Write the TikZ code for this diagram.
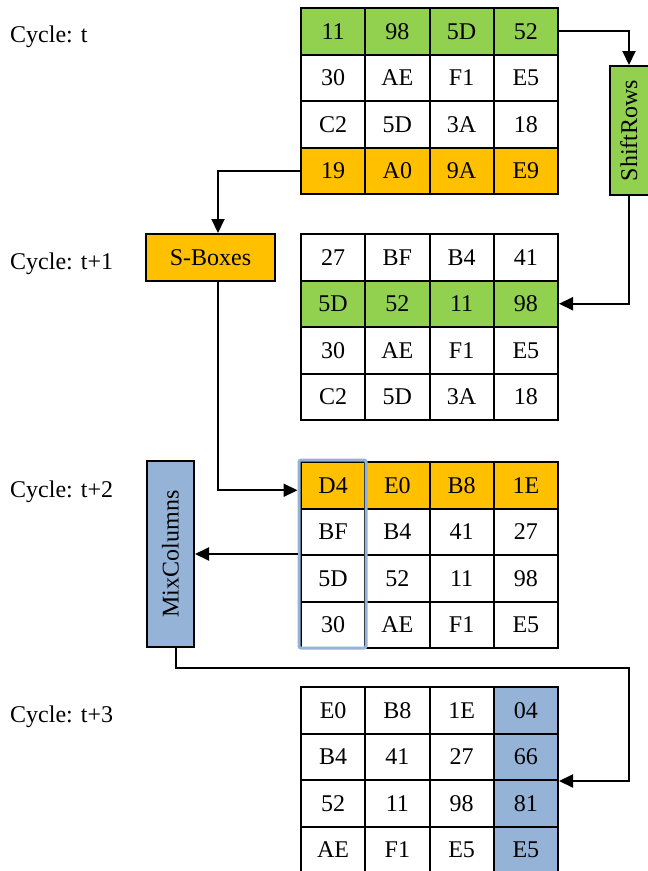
\documentclass[tikz,border=0pt]{standalone}
\usepackage{fontspec}
\setmainfont{Liberation Serif}
\usetikzlibrary{arrows.meta,calc}

\definecolor{rowgreen}{HTML}{92D050}
\definecolor{roworange}{HTML}{FFC000}
\definecolor{colblue}{HTML}{95B3D7}

\tikzset{
  cell/.style={draw, line width=2pt, minimum width=64.25pt, minimum height=46.5pt,
    inner sep=0pt, text height=16pt, text depth=0pt},
  opbox/.style={draw, line width=2pt, inner sep=0pt, text height=16pt, text depth=0pt},
  link/.style={line width=2pt, -{Triangle[length=14pt,width=13pt]}},
  cyclelabel/.style={anchor=base west, inner sep=0pt},
  colmark/.style={draw=colblue, line width=3pt, rounded corners=2pt, inner sep=0pt,
    minimum width=67pt, minimum height=188pt},
}

% one 4x4 state matrix: name, top edge, rows of value/fill pairs
\newcommand{\stategrid}[3]{%
  \foreach \rw/\cells in {#3} {
    \foreach \val/\fil [count=\col] in \cells {
      \node[cell, fill=\fil] (#1-\rw-\col)
        at ({301+64.25*(\col-0.5)}, {#2+46.5*(\rw-0.5)}) {\val};
    }
  }%
}

\begin{document}
\begin{tikzpicture}[x=1pt, y=-1pt, font=\fontsize{24}{28}\selectfont]
\clip (0,0) rectangle (648,871);

% cycle labels
\node[cyclelabel] (lt0) at (10,42)  {Cycle: t};
\node[cyclelabel] (lt1) at (10,269) {Cycle: t+1};
\node[cyclelabel] (lt2) at (10,497) {Cycle: t+2};
\node[cyclelabel] (lt3) at (10,722) {Cycle: t+3};

% state matrices
\stategrid{g1}{8}{
  1/{11/rowgreen,98/rowgreen,5D/rowgreen,52/rowgreen},
  2/{30/white,AE/white,F1/white,E5/white},
  3/{C2/white,5D/white,3A/white,18/white},
  4/{19/roworange,A0/roworange,9A/roworange,E9/roworange}}
\stategrid{g2}{234}{
  1/{27/white,BF/white,B4/white,41/white},
  2/{5D/rowgreen,52/rowgreen,11/rowgreen,98/rowgreen},
  3/{30/white,AE/white,F1/white,E5/white},
  4/{C2/white,5D/white,3A/white,18/white}}
\stategrid{g3}{462}{
  1/{D4/roworange,E0/roworange,B8/roworange,1E/roworange},
  2/{BF/white,B4/white,41/white,27/white},
  3/{5D/white,52/white,11/white,98/white},
  4/{30/white,AE/white,F1/white,E5/white}}
\stategrid{g4}{687}{
  1/{E0/white,B8/white,1E/white,04/colblue},
  2/{B4/white,41/white,27/white,66/colblue},
  3/{52/white,11/white,98/white,81/colblue},
  4/{AE/white,F1/white,E5/white,E5/colblue}}

% column selected for MixColumns
\node[colmark] (hl) at (332.5,554) {};

% round operations (rotated boxes: east is the top edge, west the bottom edge)
\node[opbox, fill=rowgreen, rotate=90, minimum width=129pt, minimum height=50pt]
  (sr) at (635,130.5) {\raisebox{6pt}{ShiftRows}};
\node[opbox, fill=roworange, minimum width=129pt, minimum height=47pt]
  (sb) at (210.5,257.5) {S-Boxes};
\node[opbox, fill=colblue, rotate=90, minimum width=186pt, minimum height=47pt]
  (mc) at (170.5,554) {MixColumns};

% data flow
\draw[link] (g1-1-4.east) -| ([xshift=-6pt]sr.east);
\draw[link] ([xshift=-6pt]sr.west) |- (g2-2-4.east);
\draw[link] (g1-4-1.west) -| ([xshift=7.5pt]sb.north);
\draw[link] ([xshift=7.5pt]sb.south) |- ($(hl.west |- g3-1-1.west)+(0,5)$);
\draw[link] (hl.west) -- (mc.south);
\coordinate (loop) at (629,668);
\draw[link] ([xshift=5.5pt]mc.west) |- (loop) |- (g4-2-4.south east);
\end{tikzpicture}
\end{document}
